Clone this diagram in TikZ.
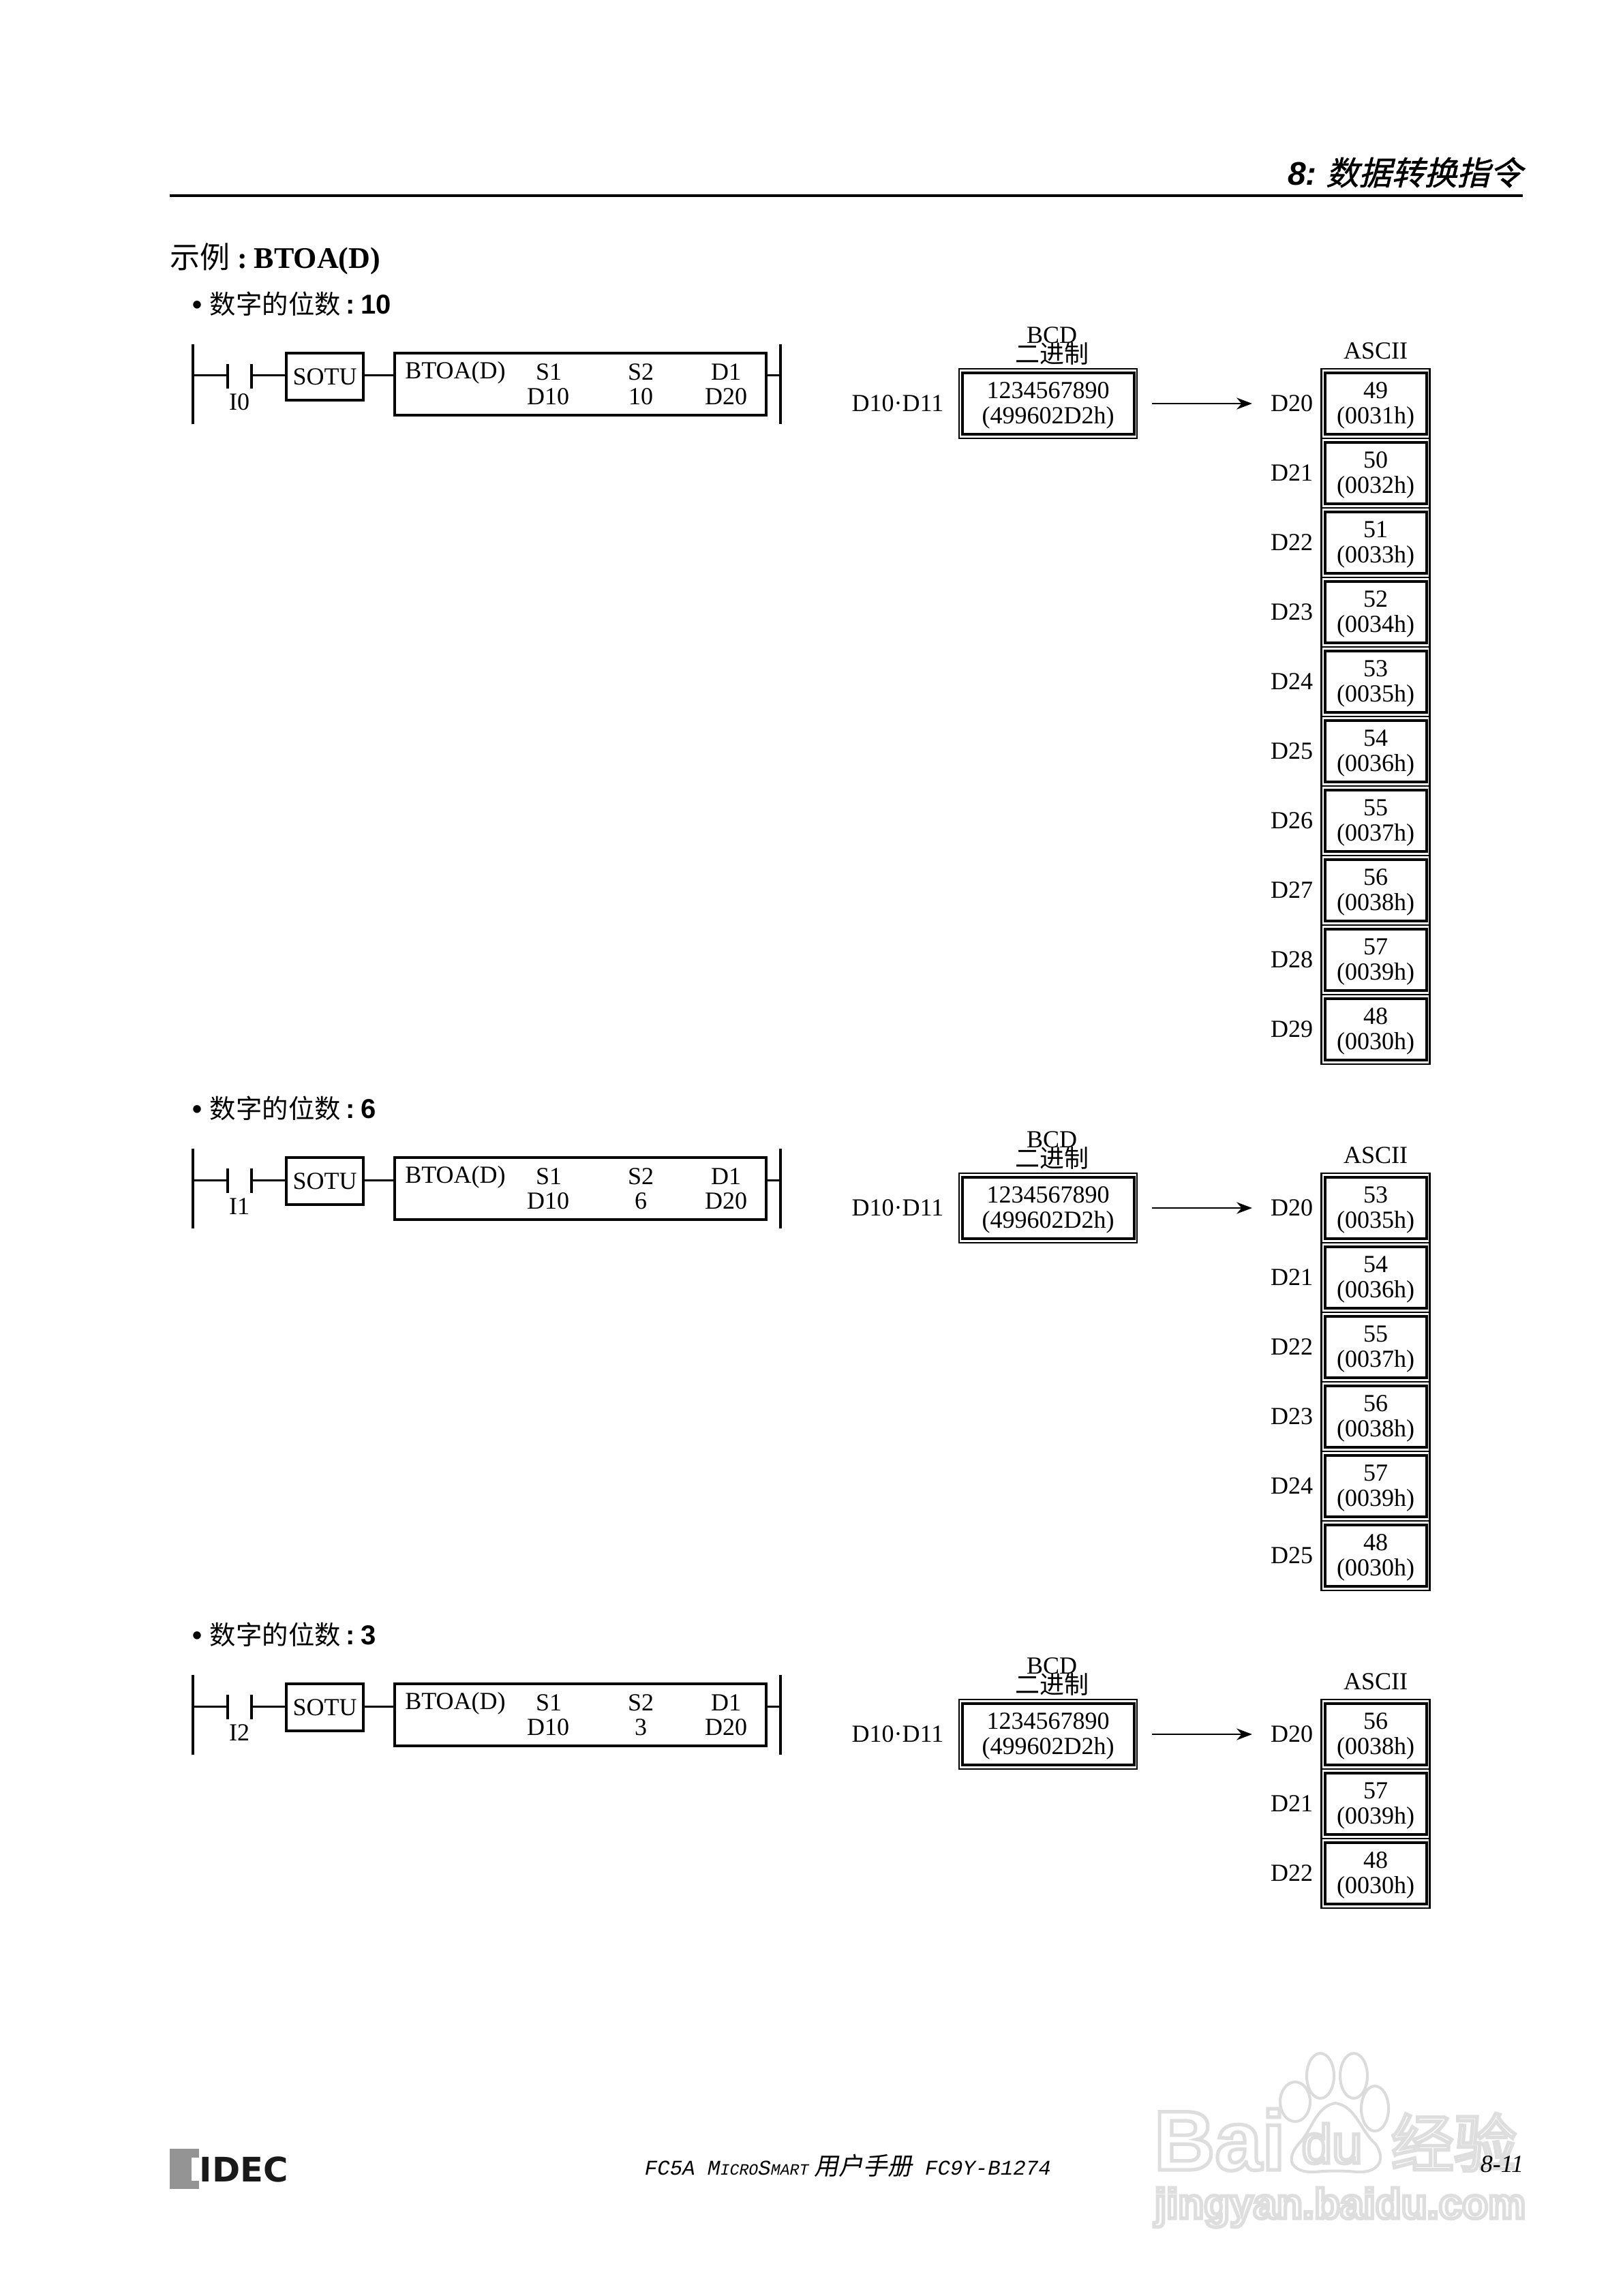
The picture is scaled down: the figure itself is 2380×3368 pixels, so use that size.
\documentclass[tikz,border=0pt]{standalone}
\usepackage{fontspec}
\setmainfont{Liberation Serif}
\setsansfont{Liberation Sans}
\setmonofont{Liberation Mono}
\newfontfamily\cjk{Noto Sans CJK SC}
\newfontfamily\cjkslant[FakeSlant=0.25,FakeBold=1.2]{Noto Sans CJK SC}
\newfontfamily\cjkfoot[FakeSlant=0.2]{Noto Sans CJK SC}
\newfontfamily\logofont{DejaVu Sans}
\usepackage{xcolor}
\usepackage{tikz}
\usetikzlibrary{positioning,arrows.meta}

\definecolor{logogray}{gray}{0.58}
\definecolor{markgray}{gray}{0.86}
\newcommand{\markout}{\special{pdf:code 1 Tr 1.3 w 0.87 G}}
\newcommand{\markoff}{\special{pdf:code 0 Tr 0 G}}

\begin{document}
\begin{tikzpicture}[x=0.25pt, y=-0.25pt, >=Stealth, every node/.style={inner sep=0pt},
    txt/.style={font=\fontsize{9}{9.25}\selectfont, align=center},
    rail/.style={line width=0.8pt},
    wire/.style={line width=0.75pt},
    fatbox/.style={draw, line width=1pt, minimum height=22.5pt, text depth=0.5pt, txt},
    thinbox/.style={draw, line width=0.6pt, minimum height=25.5pt},
    head/.style={font=\sffamily\bfseries\fontsize{10}{10}\selectfont, anchor=west}]

  \useasboundingbox (0,0) rectangle (2380,3368);
  \fill[white] (0,0) rectangle (2380,3368);

  % watermark
  \draw[markgray, line width=1pt, fill=white]
    (1900,3083) ellipse [x radius=22, y radius=29]
    (1937,3045) ellipse [x radius=20, y radius=33]
    (1986,3045) ellipse [x radius=20, y radius=33]
    (2017,3093) ellipse [x radius=20, y radius=33];
  \draw[markgray, line width=1pt, fill=white] (1959,3085)
    .. controls (1930,3090) and (1925,3125) .. (1905,3145)
    .. controls (1880,3175) and (1905,3188) .. (1930,3186)
    .. controls (1945,3184) and (1975,3184) .. (1990,3186)
    .. controls (2020,3188) and (2035,3170) .. (2018,3145)
    .. controls (1995,3125) and (1990,3090) .. (1959,3085) -- cycle;
  \node[anchor=base west, font=\sffamily\bfseries\fontsize{31}{31}\selectfont] (markbai) at (1692,3183) {\markout Bai\markoff};
  \node[anchor=base, font=\sffamily\fontsize{20}{20}\selectfont] (markdu) at (1954,3173) {\markout du\markoff};
  \node[anchor=base west, font=\cjk\fontsize{23}{23}\selectfont] (markexp) at (2040,3178) {\markout 经验\markoff};
  \node[anchor=base west, font=\sffamily\bfseries\fontsize{15.5}{15.5}\selectfont] (markurl) at (1693,3254) {\markout jingyan.baidu.com\markoff};

  % page head
  \node[anchor=east] (chapter) at (2234,253) {{\sffamily\bfseries\itshape\fontsize{12}{12}\selectfont 8:} {\cjkslant\fontsize{12}{12}\selectfont 数据转换指令}};
  \coordinate (ruleL) at (249,287);
  \coordinate (ruleR) at (2234,287);
  \draw[line width=1pt] (ruleL) -- (ruleR);
  \node[anchor=west, font=\fontsize{11}{11}\selectfont] (example) at (249,380) {{\cjk 示例} \textbf{:\kern-0.4pt\ BTOA(D)}};

  % three examples
  \foreach \secy/\sec/\digits/\cont/\cells in {
      0/a/10/I0/{49/0031,50/0032,51/0033,52/0034,53/0035,54/0036,55/0037,56/0038,57/0039,48/0030},
      1180/b/6/I1/{53/0035,54/0036,55/0037,56/0038,57/0039,48/0030},
      1952/c/3/I2/{56/0038,57/0039,48/0030}} {
    \begin{scope}[shift={(0,\secy)}]
      \node[head] (title\sec) at (282,446) {• {\cjk\mdseries\fontsize{9.6}{9.6}\selectfont 数字的位数}\kern-1pt\ :\kern-0.6pt\ \digits};

      % ladder rung
      \coordinate (railLtop\sec) at (283,505);
      \coordinate (railL\sec) at (283,551);
      \coordinate (railLbot\sec) at (283,622);
      \coordinate (railRtop\sec) at (1145,505);
      \coordinate (railR\sec) at (1145,551);
      \coordinate (railRbot\sec) at (1145,622);
      \coordinate (conAtop\sec) at (334,534);
      \coordinate (conA\sec) at (334,551);
      \coordinate (conAbot\sec) at (334,570);
      \coordinate (conBtop\sec) at (369,534);
      \coordinate (conB\sec) at (369,551);
      \coordinate (conBbot\sec) at (369,570);
      \node[draw, line width=1pt, txt, minimum width=28.25pt, minimum height=17.25pt] (sotu\sec) at (476.5,552.5) {SOTU};
      \node[draw, line width=1pt, minimum width=136.25pt, minimum height=22.75pt] (btoa\sec) at (851.5,563.5) {};
      \node[txt] (cont\sec) at (351,590) {\cont};
      \node[txt] (ins\sec) at (668,547) {BTOA(D)};
      \node[txt] (sa\sec) at (805,546) {S1};
      \node[txt] (sb\sec) at (940,546) {S2};
      \node[txt] (da\sec) at (1065,546) {D1};
      \node[txt] (saval\sec) at (804,582) {D10};
      \node[txt] (sbval\sec) at (940,582) {\digits};
      \node[txt] (daval\sec) at (1065,582) {D20};
      \draw[rail] (railLtop\sec) -- (railLbot\sec);
      \draw[rail] (railRtop\sec) -- (railRbot\sec);
      \draw[rail] (conAtop\sec) -- (conAbot\sec);
      \draw[rail] (conBtop\sec) -- (conBbot\sec);
      \draw[wire] (railL\sec) -- (conA\sec);
      \draw[wire] (conB\sec) -- (sotu\sec.west |- conB\sec);
      \draw[wire] (sotu\sec.east |- conB\sec) -- (btoa\sec.west |- conB\sec);
      \draw[wire] (btoa\sec.east |- railR\sec) -- (railR\sec);

      % source value
      \node[thinbox, minimum width=65.25pt] (bcdout\sec) at (1537.5,592) {};
      \node[fatbox, minimum width=63pt] (bcd\sec) at (1537.5,592) {1234567890\\(499602D2h)};
      \node[txt] (bcdname\sec) at (1543,492) {BCD};
      \node[txt, font=\cjk\fontsize{9}{9}\selectfont] (bin\sec) at (1543,519) {二进制};
      \node[txt] (src\sec) at (1317,592) {D10·D11};

      % converted values
      \node[txt] (ascii\sec) at (2018,515) {ASCII};
      \foreach \val/\hexv [count=\k from 0, evaluate=\k as \reg using int(20+\k), evaluate=\k as \celly using int(592+102*\k)] in \cells {
        \node[thinbox, minimum width=39.75pt] (out\sec\k) at (2018,\celly) {};
        \node[fatbox, minimum width=37.25pt] (cell\sec\k) at (2018,\celly) {\val\\(\hexv h)};
        \node[txt, left=2.6pt of out\sec\k] (reg\sec\k) {D\reg};
      }
      \draw[->, line width=0.6pt, shorten <=5.25pt, shorten >=6.6pt] (bcdout\sec) -- (reg\sec0);
    \end{scope}
  }

  % page foot
  \fill[logogray] (249,3152) rectangle (292,3211);
  \fill[white] (281,3165) rectangle (292,3199);
  \node[anchor=west, font=\logofont\bfseries\fontsize{12.4}{12.4}\selectfont, text=black!90] (logo) at (292,3182) {IDEC};
  \node[anchor=west, font=\ttfamily\itshape\fontsize{7.7}{7.7}\selectfont] (manual) at (945,3177) {FC5A M{\fontsize{5.8}{5.8}\selectfont ICRO}S{\fontsize{5.8}{5.8}\selectfont MART}\kern2pt{\cjkfoot\fontsize{9}{9}\selectfont 用户手册} FC9Y-B1274};
  \node[anchor=east, font=\itshape\fontsize{9}{9}\selectfont] (pageno) at (2236,3175) {8-11};
\end{tikzpicture}
\end{document}
